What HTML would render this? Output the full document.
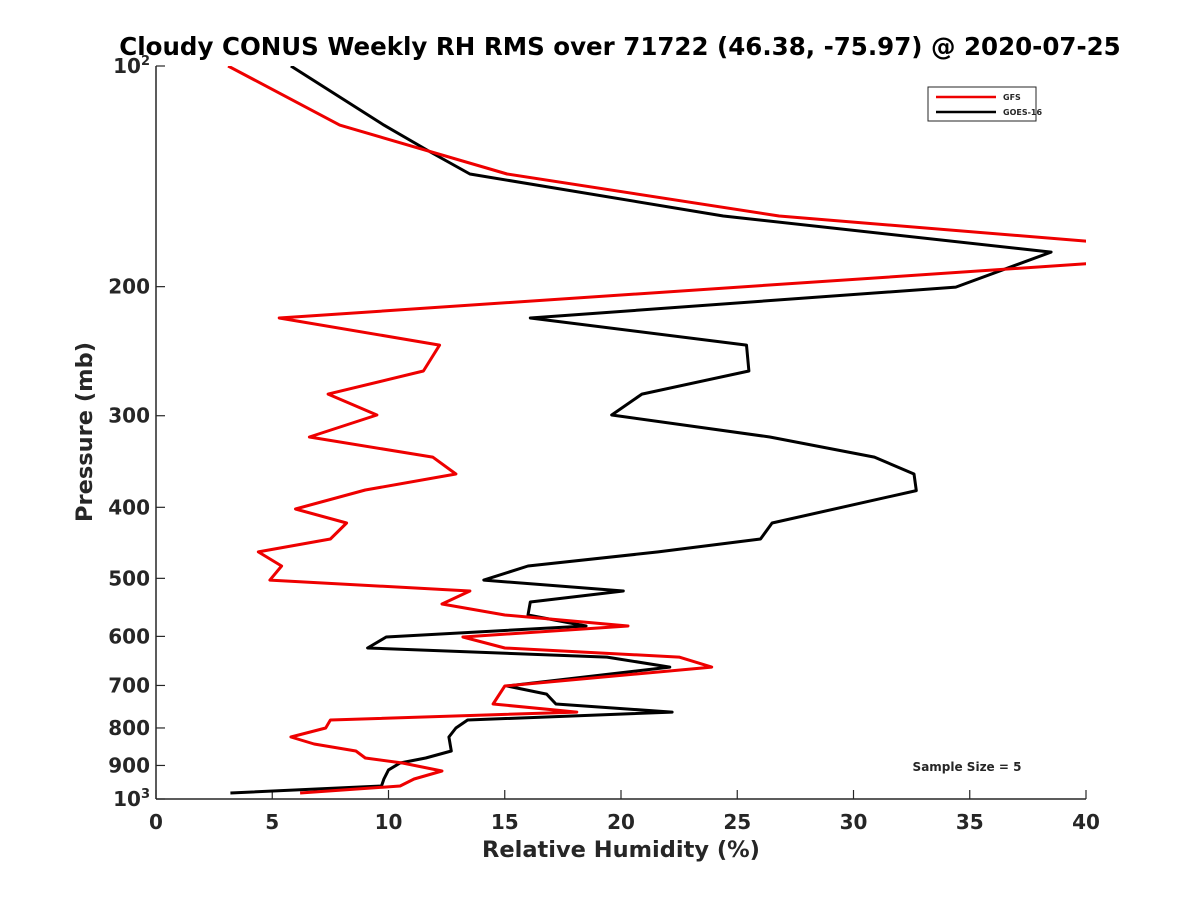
<!DOCTYPE html>
<html><head><meta charset="utf-8"><style>
body{margin:0;background:#fff;}
svg text{font-family:"DejaVu Sans","Liberation Sans",sans-serif;font-weight:bold;fill:#262626;}
</style></head><body>
<svg id="chart" width="1200" height="900">
<defs><clipPath id="clip"><rect x="156" y="66" width="930" height="733"/></clipPath></defs>
<text x="620" y="55" font-size="24.5" text-anchor="middle" style="fill:#000">Cloudy CONUS Weekly RH RMS over 71722 (46.38, -75.97) @ 2020-07-25</text>
<g id="axes"></g>
<g id="series" clip-path="url(#clip)"></g>
<g>
<rect x="928" y="87" width="108" height="34" fill="#fff" stroke="#262626" stroke-width="1"/>
<line x1="936" y1="97" x2="996" y2="97" stroke="#e00" stroke-width="2.5"/>
<text x="1003" y="100" font-size="8">GFS</text>
<line x1="936" y1="112" x2="996" y2="112" stroke="#000" stroke-width="2.5"/>
<text x="1003" y="115" font-size="8">GOES-16</text>
</g>
<text x="967" y="771" font-size="12" text-anchor="middle">Sample Size = 5</text>
</svg>
<script>
const xTicks=[0,5,10,15,20,25,30,35,40];
const yTicks=[100,200,300,400,500,600,700,800,900,1000];
const gfsP=[100,120.4,140.4,160.2,173.9,185.7,220.7,240.3,260.7,280.3,299.3,320.7,341.6,360.3,378.8,402.1,420.2,441.8,460.2,481,502.8,520.3,542,561,580.7,601.2,622.3,640.3,660.7,701.3,742,761,780.3,800,823,841.4,860,879.2,893,915.7,939,960,981.3];
const gfsRH=[3.1,7.9,15.1,26.8,40.5,40.5,5.3,12.2,11.5,7.4,9.5,6.6,11.9,12.9,9.0,6.0,8.2,7.5,4.4,5.4,4.9,13.5,12.3,15.0,20.3,13.2,15.0,22.5,23.9,15.0,14.5,18.1,7.5,7.3,5.8,6.8,8.6,9.0,10.6,12.3,11.1,10.5,6.2];
const goesP=[100,120.4,131,140.4,160.2,179.4,200.3,220.7,240.3,260.7,280.3,299.3,320.7,341.6,360.3,379.5,420.2,441.8,460.2,481,502.8,520.3,538.6,561,580.7,601.2,622.3,640.3,660.7,701.3,719.2,742,761,780.3,800,823,860,879.2,893,912.6,939,960,981.3];
const goesRH=[5.8,9.8,11.8,13.5,24.4,38.5,34.4,16.1,25.4,25.5,20.9,19.6,26.4,30.9,32.6,32.7,26.5,26.0,21.6,16.0,14.1,20.1,16.1,16.0,18.5,9.9,9.1,19.4,22.1,15.1,16.8,17.2,22.2,13.4,12.9,12.6,12.7,11.6,10.5,10.0,9.8,9.7,3.2];
const X0=156,X1=1086,Y0=66,Y1=799;
const xs=v=>X0+(v/40)*(X1-X0);
const ys=p=>Y0+(Math.log10(p)-2)*(Y1-Y0);
const NS="http://www.w3.org/2000/svg";
function mk(tag,attrs,parent){const e=document.createElementNS(NS,tag);for(const k in attrs)e.setAttribute(k,attrs[k]);parent.appendChild(e);return e;}
const ax=document.getElementById('axes');
let l=mk('line',{x1:X0,y1:Y0,x2:X0,y2:Y1,stroke:'#262626','stroke-width':1.5},ax);


l=mk('line',{x1:X0,y1:Y1,x2:X1,y2:Y1,stroke:'#262626','stroke-width':1.5},ax);


xTicks.forEach(v=>{
  const x=xs(v);
  const t=mk('line',{x1:x,y1:Y1,x2:x,y2:Y1-9,stroke:'#262626','stroke-width':1.2},ax);
  
  
  const tx=mk('text',{x:x,y:Y1+30,'font-size':20,'text-anchor':'middle'},ax);
  tx.textContent=v;
  
  
});
yTicks.forEach(p=>{
  const y=ys(p);
  const t=mk('line',{x1:X0,y1:y,x2:X0+9,y2:y,stroke:'#262626','stroke-width':1.2},ax);
  
  
  const tx=mk('text',{x:X0-6,y:y+7,'font-size':20,'text-anchor':'end'},ax);
  if(p===100||p===1000){tx.textContent='10';const s=mk('tspan',{'font-size':13,dy:-8},tx);s.textContent=p===100?'2':'3';}
  else tx.textContent=p;
  
  
});
let tt=mk('text',{x:621,y:857,'font-size':22.5,'text-anchor':'middle'},ax);
tt.textContent='Relative Humidity (%)';


tt=mk('text',{x:92,y:432,'font-size':22.5,'text-anchor':'middle',transform:'rotate(-90 92 432)'},ax);
tt.textContent='Pressure (mb)';


const sg=document.getElementById('series');
function line(P,R,c,name){
  const d=P.map((p,i)=>(i?'L':'M')+xs(R[i]).toFixed(1)+' '+ys(p).toFixed(1)).join(' ');
  const e=mk('path',{d:d,fill:'none',stroke:c,'stroke-width':3,'stroke-linejoin':'round'},sg);
  
  
}
line(goesP,goesRH,'#000','goes16-line');
line(gfsP,gfsRH,'#e00','gfs-line');
</script>
</body></html>
